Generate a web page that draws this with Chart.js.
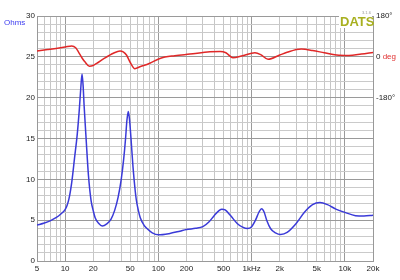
<!DOCTYPE html>
<html>
<head>
<meta charset="utf-8">
<script src="https://cdn.jsdelivr.net/npm/chart.js@4/dist/chart.umd.min.js"></script>
<style>
  html, body { margin: 0; padding: 0; background: #fff; }
</style>
</head>
<body>
<canvas id="imp" width="400" height="280"></canvas>
<script>
// impedance magnitude (ohms)
const zFreq = [5, 6, 7, 8, 9, 10, 10.5, 11, 11.5, 11.9, 12.6, 13.5, 14.2, 14.7, 15.2, 15.6, 16, 16.8, 17.8, 19, 20, 21, 23, 25, 28, 31, 34, 37, 40, 42.5, 44.5, 46, 47.6, 49, 50.9, 53.5, 56, 58, 61, 64, 70, 75, 86, 100, 130, 170, 200, 250, 300, 350, 400, 450, 480, 520, 600, 700, 800, 900, 1000, 1100, 1200, 1280, 1360, 1450, 1600, 1800, 2050, 2400, 3000, 3700, 4500, 5400, 6500, 8000, 10000, 13000, 16000, 20000]
const zOhms = [4.4, 4.65, 4.95, 5.3, 5.75, 6.3, 6.8, 7.6, 8.8, 10, 12.5, 15.5, 18.5, 21, 22.9, 21.5, 19, 15, 10.5, 7.4, 6.2, 5.3, 4.6, 4.3, 4.55, 5.1, 6.2, 7.8, 10, 12.5, 15, 17.2, 18.3, 17.4, 15, 11.5, 9, 7.5, 6.2, 5.3, 4.4, 4.0, 3.45, 3.2, 3.35, 3.65, 3.85, 4.0, 4.2, 4.8, 5.6, 6.2, 6.35, 6.25, 5.5, 4.6, 4.15, 3.97, 4.2, 5.0, 6.0, 6.4, 6.0, 5.0, 3.95, 3.45, 3.25, 3.5, 4.6, 6.0, 6.9, 7.15, 6.9, 6.35, 5.95, 5.55, 5.5, 5.6]

// impedance phase (degrees)
const phFreq = [5, 6.5, 8, 10, 11.8, 13, 13.9, 15.2, 16.3, 18.2, 20, 21.8, 26, 32.9, 38.8, 42, 45.7, 50, 56, 63.5, 81, 104, 150, 218, 357, 460, 530, 630, 800, 1085, 1250, 1500, 2000, 2400, 3400, 4500, 6000, 8150, 11000, 15000, 20000]
const phDeg = [26, 32, 37, 43, 48, 40, 22, -5, -22, -41, -38, -29, -8, 16, 26, 22, 7, -25, -52, -44, -28, -7, 5, 12, 22, 24, 18, -4, 5, 18, 10, -11, 8, 20, 34, 28, 18, 8, 6, 12, 19]

// axes
const gridFreqs = [5, 6, 7, 8, 9, 10, 20, 30, 40, 50, 60, 70, 80, 90, 100, 200, 300, 400, 500, 600, 700, 800, 900, 1000, 2000, 3000, 4000, 5000, 6000, 7000, 8000, 9000, 10000, 20000]
const decadeFreqs = [10, 100, 1000, 10000]
const labelFreqs = [5, 10, 20, 50, 100, 200, 500, 1000, 2000, 5000, 10000, 20000]
const labelTexts = ['5', '10', '20', '50', '100', '200', '500', '1kHz', '2k', '5k', '10k', '20k']
const phaseTicks = [-180, 0, 180]

const fnt = { family: 'Liberation Sans, Arial, sans-serif', size: 8 }

const extras = {
    id: 'extras',
    afterDraw(chart) {
        const c = chart.ctx
        const y2 = chart.scales.y2
        c.save()
        c.font = '8px Liberation Sans, Arial, sans-serif'
        c.textBaseline = 'middle'
        // Ohms caption
        c.fillStyle = '#3c3cf0'
        c.fillText('Ohms', 4, 23)
        // 0 deg label
        const py = y2.getPixelForValue(0)
        c.fillStyle = '#222'
        c.fillText('0', y2.left + 3, py)
        const w = c.measureText('0 ').width
        c.fillStyle = '#e03030'
        c.fillText('deg', y2.left + 3 + w, py)
        // DATS badge
        c.fillStyle = '#fff'
        c.fillRect(339, 10, 33, 18)
        c.fillStyle = '#a8b020'
        c.font = 'bold 13px Liberation Sans, Arial, sans-serif'
        c.textBaseline = 'alphabetic'
        c.fillText('DATS', 340, 26)
        c.fillStyle = '#999'
        c.font = '4px Liberation Sans, Arial, sans-serif'
        c.fillText('3.1.6', 362, 14)
        c.restore()
    }
}

new Chart(document.getElementById('imp'), {
    type: 'line',
    data: {
        datasets: [
            {
                label: 'Ohms',
                data: zFreq.map((f, i) => ({ x: f, y: zOhms[i] })),
                borderColor: '#3a3ad8',
                borderWidth: 1.5,
                pointRadius: 0,
                cubicInterpolationMode: 'monotone',
                yAxisID: 'y'
            },
            {
                label: 'deg',
                data: phFreq.map((f, i) => ({ x: f, y: phDeg[i] })),
                borderColor: '#e02828',
                borderWidth: 1.5,
                pointRadius: 0,
                cubicInterpolationMode: 'monotone',
                yAxisID: 'y2'
            }
        ]
    },
    options: {
        responsive: false,
        animation: false,
        layout: { padding: { top: 16 } },
        plugins: { legend: { display: false }, tooltip: { enabled: false } },
        scales: {
            x: {
                type: 'logarithmic',
                min: 5,
                max: 20000,
                afterBuildTicks: s => { s.ticks = gridFreqs.map(v => ({ value: v })) },
                afterFit: s => { s.height = 19 },
                ticks: {
                    autoSkip: false,
                    maxRotation: 0,
                    padding: 3,
                    font: fnt,
                    color: '#222',
                    callback: v => {
                        const i = labelFreqs.indexOf(v)
                        return i < 0 ? '' : labelTexts[i]
                    }
                },
                grid: {
                    drawTicks: false,
                    color: c => decadeFreqs.includes(c.tick && c.tick.value) ? '#9a9a9a' : '#c6c6c6'
                },
                border: { color: '#999' }
            },
            y: {
                position: 'left',
                min: 0,
                max: 30,
                afterFit: s => { s.width = 37 },
                ticks: {
                    stepSize: 1,
                    maxTicksLimit: 40,
                    autoSkip: false,
                    padding: 2,
                    font: fnt,
                    color: '#222',
                    callback: v => v % 5 === 0 ? v : ''
                },
                grid: {
                    drawTicks: false,
                    color: c => c.tick && c.tick.value % 5 === 0 ? '#9a9a9a' : '#cacaca'
                },
                border: { color: '#999' }
            },
            y2: {
                position: 'right',
                min: -900,
                max: 180,
                afterBuildTicks: s => { s.ticks = phaseTicks.map(v => ({ value: v })) },
                afterFit: s => { s.width = 27 },
                ticks: {
                    padding: 3,
                    font: fnt,
                    color: '#222',
                    callback: v => v === 0 ? '' : v + '°'
                },
                grid: { display: false, drawTicks: false },
                border: { color: '#999' }
            }
        }
    },
    plugins: [extras]
})
</script>
</body>
</html>
